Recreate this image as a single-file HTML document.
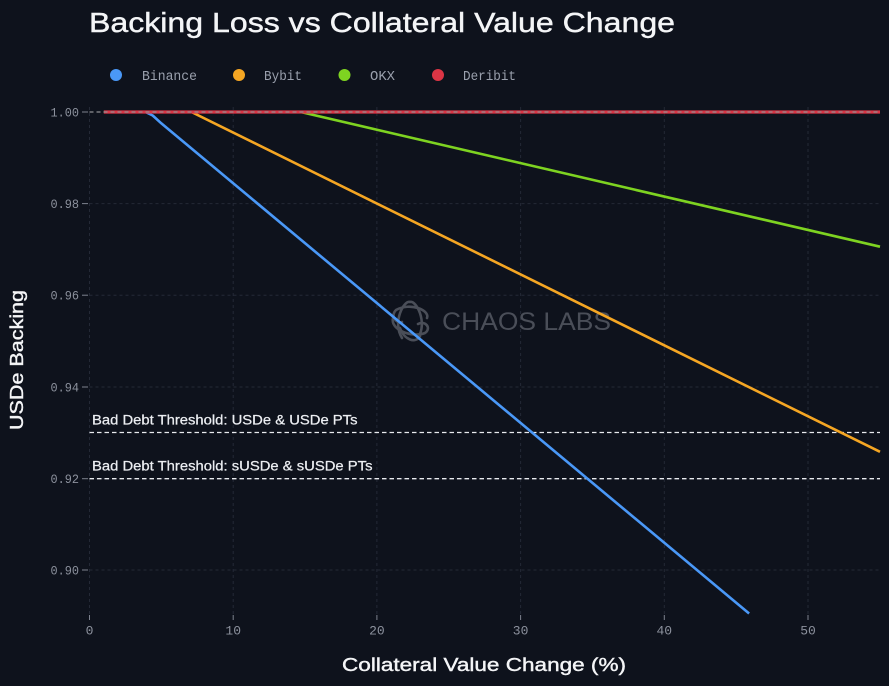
<!DOCTYPE html>
<html>
<head>
<meta charset="utf-8">
<style>
html,body{margin:0;padding:0;background:#0e121c;}
svg{display:block;}
</style>
</head>
<body>
<svg width="889" height="686" viewBox="0 0 889 686" xmlns="http://www.w3.org/2000/svg">
<rect width="889" height="686" fill="#0e121c"/>

<!-- Title -->
<text x="89" y="32" font-family="Liberation Sans, sans-serif" font-size="28" fill="#f4f5f7" stroke="#f4f5f7" stroke-width="0.4" textLength="586" lengthAdjust="spacingAndGlyphs">Backing Loss vs Collateral Value Change</text>

<!-- Legend -->
<g font-family="Liberation Mono, monospace" font-size="13.5" fill="#9aa0ad">
<circle cx="116" cy="75" r="6" fill="#4a98f7"/>
<text x="142" y="80" textLength="55" lengthAdjust="spacingAndGlyphs">Binance</text>
<circle cx="239" cy="75" r="6" fill="#f5a623"/>
<text x="264" y="80" textLength="38" lengthAdjust="spacingAndGlyphs">Bybit</text>
<circle cx="344.5" cy="75" r="6" fill="#7ed321"/>
<text x="370" y="80" textLength="25" lengthAdjust="spacingAndGlyphs">OKX</text>
<circle cx="438" cy="75" r="6" fill="#dc3545"/>
<text x="463" y="80" textLength="53" lengthAdjust="spacingAndGlyphs">Deribit</text>
</g>

<!-- Grid -->
<g stroke="#242936" stroke-width="1" stroke-dasharray="3,3" fill="none">
<line x1="89.5" y1="107" x2="89.5" y2="615"/>
<line x1="233.2" y1="107" x2="233.2" y2="615"/>
<line x1="376.9" y1="107" x2="376.9" y2="615"/>
<line x1="520.6" y1="107" x2="520.6" y2="615"/>
<line x1="664.3" y1="107" x2="664.3" y2="615"/>
<line x1="808" y1="107" x2="808" y2="615"/>
<line x1="89.5" y1="570" x2="880" y2="570"/>
<line x1="89.5" y1="478.7" x2="880" y2="478.7"/>
<line x1="89.5" y1="387" x2="880" y2="387"/>
<line x1="89.5" y1="295.2" x2="880" y2="295.2"/>
<line x1="89.5" y1="203.6" x2="880" y2="203.6"/>
</g>

<!-- Y ticks -->
<g stroke="#7d828e" stroke-width="1">
<line x1="82" y1="112" x2="88" y2="112"/>
<line x1="82" y1="203.6" x2="88" y2="203.6"/>
<line x1="82" y1="295.2" x2="88" y2="295.2"/>
<line x1="82" y1="387" x2="88" y2="387"/>
<line x1="82" y1="478.7" x2="88" y2="478.7"/>
<line x1="82" y1="570" x2="88" y2="570"/>
</g>
<g font-family="Liberation Mono, monospace" font-size="13" fill="#8c919d" text-anchor="end">
<text x="79" y="116.5" textLength="28.5" lengthAdjust="spacingAndGlyphs">1.00</text>
<text x="79" y="208" textLength="28.5" lengthAdjust="spacingAndGlyphs">0.98</text>
<text x="79" y="299.6" textLength="28.5" lengthAdjust="spacingAndGlyphs">0.96</text>
<text x="79" y="391.4" textLength="28.5" lengthAdjust="spacingAndGlyphs">0.94</text>
<text x="79" y="483.1" textLength="28.5" lengthAdjust="spacingAndGlyphs">0.92</text>
<text x="79" y="574.4" textLength="28.5" lengthAdjust="spacingAndGlyphs">0.90</text>
</g>

<!-- X ticks -->
<g stroke="#7d828e" stroke-width="1">
<line x1="89.5" y1="615" x2="89.5" y2="620"/>
<line x1="233.2" y1="615" x2="233.2" y2="620"/>
<line x1="376.9" y1="615" x2="376.9" y2="620"/>
<line x1="520.6" y1="615" x2="520.6" y2="620"/>
<line x1="664.3" y1="615" x2="664.3" y2="620"/>
<line x1="808" y1="615" x2="808" y2="620"/>
</g>
<g font-family="Liberation Mono, monospace" font-size="13" fill="#8c919d" text-anchor="middle">
<text x="89.5" y="634.5">0</text>
<text x="233.2" y="634.5">10</text>
<text x="376.9" y="634.5">20</text>
<text x="520.6" y="634.5">30</text>
<text x="664.3" y="634.5">40</text>
<text x="808" y="634.5">50</text>
</g>

<!-- Axis titles -->
<text x="342" y="671" font-family="Liberation Sans, sans-serif" font-size="18.5" fill="#f4f5f7" stroke="#f4f5f7" stroke-width="0.4" textLength="284" lengthAdjust="spacingAndGlyphs">Collateral Value Change (%)</text>
<text transform="translate(23,360) rotate(-90)" text-anchor="middle" font-family="Liberation Sans, sans-serif" font-size="18" fill="#f4f5f7" stroke="#f4f5f7" stroke-width="0.4" textLength="140" lengthAdjust="spacingAndGlyphs">USDe Backing</text>

<!-- Watermark -->
<g fill="none" stroke="#4a4e58" stroke-width="2.6" stroke-linecap="round">
<path d="M402 338 C392 322, 404 300, 410 302 C416 300, 428 322, 418 338"/>
<path d="M393 318 C390 330, 412 338, 425 333 C432 328, 425 320, 418 324"/>
<path d="M427 318 C430 310, 410 302, 396 310 C390 316, 396 324, 402 322"/>
<path d="M400 328 C404 340, 416 344, 420 336"/>
</g>
<text x="442" y="330" font-family="Liberation Sans, sans-serif" font-size="25" fill="#4a4e58" textLength="169" lengthAdjust="spacingAndGlyphs">CHAOS LABS</text>

<!-- Threshold lines -->
<g stroke="#e8eaee" stroke-width="1.3" stroke-dasharray="4.5,3">
<line x1="89.5" y1="432.5" x2="880" y2="432.5"/>
<line x1="89.5" y1="478.7" x2="880" y2="478.7"/>
</g>
<g font-family="Liberation Sans, sans-serif" font-size="13.5" fill="#eceef2" stroke="#eceef2" stroke-width="0.25">
<text x="92" y="424.5" textLength="265.5" lengthAdjust="spacingAndGlyphs">Bad Debt Threshold: USDe &amp; USDe PTs</text>
<text x="92" y="470.3" textLength="280.5" lengthAdjust="spacingAndGlyphs">Bad Debt Threshold: sUSDe &amp; sUSDe PTs</text>
</g>

<!-- Series -->
<g fill="none" stroke-width="2.6" stroke-linejoin="round">
<polyline stroke="#7ed321" points="103.9,112 300.7,112 880,246.7"/>
<polyline stroke="#f5a623" points="103.9,112 191.5,112 880,451.8"/>
<polyline stroke="#4a98f7" points="103.9,112 145.5,112 152.7,115.5 161.4,123.4 749.1,613.5"/>
<line x1="103.9" y1="112" x2="880" y2="112" stroke="#dc3545" stroke-width="3.2"/>
<line x1="89.5" y1="112" x2="880" y2="112" stroke="#8f8f92" stroke-width="1.3" stroke-dasharray="4,3"/>
</g>
</svg>
</body>
</html>
